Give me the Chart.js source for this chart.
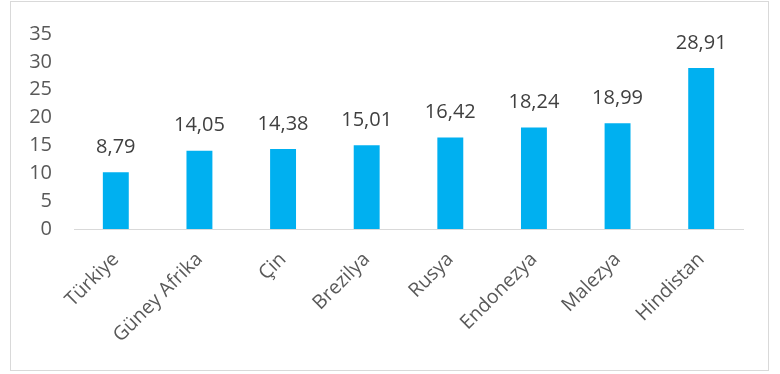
<!DOCTYPE html>
<html>
<head>
<meta charset="utf-8">
<script src="https://cdn.jsdelivr.net/npm/chart.js@4/dist/chart.umd.min.js"></script>
<style>
  html, body { margin: 0; padding: 0; background: #fff; }
  #wrap { position: relative; width: 780px; height: 374px; }
  #frame { position: absolute; left: 10px; top: 1px; width: 759px; height: 370px; border: 1px solid #d9d9d9; box-sizing: border-box; }
  canvas { position: absolute; left: 0; top: 0; }
</style>
</head>
<body>
<div id="wrap">
  <div id="frame"></div>
  <canvas id="chart" width="780" height="374"></canvas>
</div>
<script>
// country names on the x axis
const countries = ['Türkiye', 'Güney Afrika', 'Çin', 'Brezilya', 'Rusya', 'Endonezya', 'Malezya', 'Hindistan'];
// bar heights as drawn (Türkiye's bar stands higher than its label says)
const barValues = [10.2, 14.05, 14.38, 15.01, 16.42, 18.24, 18.99, 28.91];
// value labels printed above the bars
const valueLabels = ['8,79', '14,05', '14,38', '15,01', '16,42', '18,24', '18,99', '28,91'];
const yTicks = [0, 5, 10, 15, 20, 25, 30, 35];

const FONT = "'Open Sans', sans-serif";

// draws the value text above each bar
const barLabels = {
  id: 'barLabels',
  afterDatasetsDraw(chart) {
    const ctx = chart.ctx;
    const meta = chart.getDatasetMeta(0);
    ctx.save();
    ctx.font = '20px ' + FONT;
    ctx.fillStyle = '#404040';
    ctx.textAlign = 'center';
    ctx.textBaseline = 'middle';
    meta.data.forEach((bar, i) => {
      ctx.fillText(valueLabels[i], bar.x, bar.y - 25);
    });
    ctx.restore();
  }
};

new Chart(document.getElementById('chart'), {
  type: 'bar',
  data: {
    labels: countries,
    datasets: [{
      data: barValues,
      backgroundColor: '#00b0f0',
      barPercentage: 0.62,
      categoryPercentage: 0.5
    }]
  },
  options: {
    responsive: false,
    animation: false,
    layout: { padding: { left: 0, right: 37, top: 30, bottom: 0 } },
    plugins: {
      legend: { display: false },
      tooltip: { enabled: false }
    },
    scales: {
      x: {
        grid: { display: false },
        border: { display: true, color: '#d9d9d9', width: 1 },
        ticks: {
          color: '#595959',
          font: { family: FONT, size: 19.5 },
          minRotation: 45,
          maxRotation: 45,
          padding: 11
        },
        afterFit(scale) { scale.height = 145; }
      },
      y: {
        min: 0,
        max: 35,
        afterBuildTicks(scale) { scale.ticks = yTicks.map(v => ({ value: v })); },
        grid: { display: false, drawTicks: false },
        border: { display: false },
        ticks: {
          color: '#595959',
          font: { family: FONT, size: 20 },
          padding: 22
        },
        afterFit(scale) { scale.width = 74; }
      }
    }
  },
  plugins: [barLabels]
});
</script>
</body>
</html>
